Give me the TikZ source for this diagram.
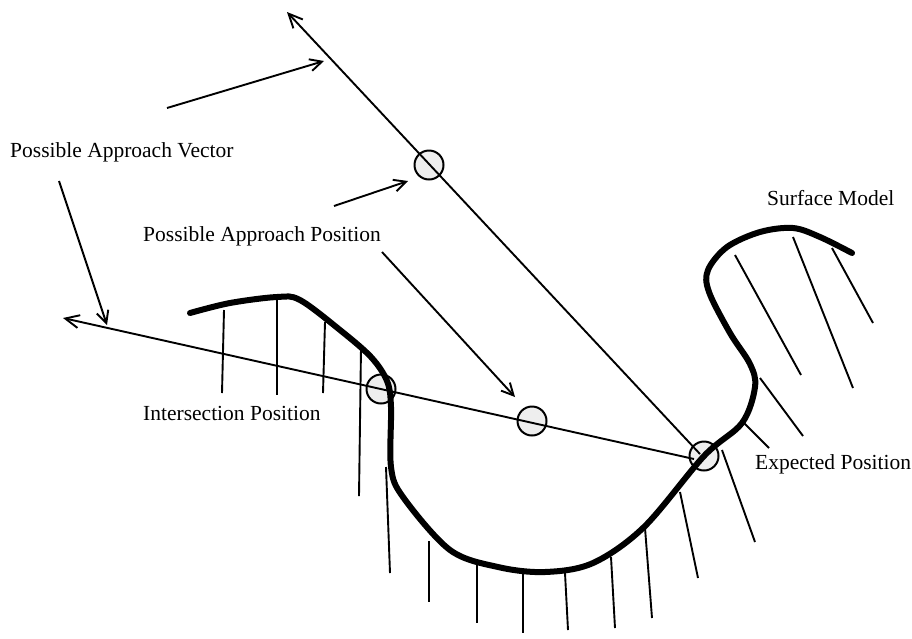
\documentclass[tikz,border=0pt]{standalone}
\usepackage{fontspec}
\setmainfont{Liberation Serif}
\usepackage{tikz}
\usetikzlibrary{positioning,arrows.meta,calc}
\definecolor{probe}{HTML}{EEEEEE}

\begin{document}
\begin{tikzpicture}[x=1pt, y=-1pt,
      probept/.style={circle, draw, fill=probe, line
      width=2pt, minimum size=29pt, inner sep=0pt},
      ray/.style={-{Straight Barb[length=14pt, width=13pt]}, line width=1.9pt},
      lead/.style={-{Straight Barb[length=12pt, width=12pt]}, line width=1.9pt},
      surf/.style={line width=6pt, line cap=round, line join=round},
      hatch/.style={line width=1.9pt},
      lbl/.style={font=\fontsize{21.5}{24}\selectfont, anchor=base west, inner sep=0pt},
    ]
    \useasboundingbox (0,0) rectangle (912,638);

    % hatching under the surface
    \foreach \xa/\ya/\xb/\yb in {224/310/222/393, 277/297/277/395,
        325/322/323/393, 361/348/359/496, 386/467/390/573,
        429/541/429/602, 477/565/477/623, 523/573/523/633,
        565/573/568/630, 611/557/615/628, 645/528/652/618,
        680/492/698/578, 722/450/755/542, 743/422/769/448,
        760/378/803/436, 735/255/801/375, 793/237/853/388,
        832/248/873/323}
      \draw[hatch] (\xa,\ya) -- (\xb,\yb);

    \node[probept] (top) at (429,165) {};
    \node[probept] (isect) at (381,389) {};
    \node[probept] (mid) at (532,421) {};
    \node[probept] (exp) at (704,456) {};

    \draw[surf] plot[smooth, tension=0.55] coordinates {(190,313) (230,303)
      (277,297) (300,300) (340,330) (371,357) (387,381) (391,407) (391,467)
      (403,497) (450,550) (498,567) (545,572) (593,563) (644,527) (704,456)
      (742,423) (755,387) (750,364) (730,333) (709,292) (708,270) (727,247)
      (760,232) (793,228) (820,237) (852,253)};

    \coordinate (vtip) at (287,12);
    \coordinate (htip) at (63,318);
    \coordinate (vend) at (700,454);
    \coordinate (hend) at (694,459);
    \draw[ray] (vend) -- (vtip);
    \draw[ray] (hend) -- (htip);

    % labels
    \node[lbl] (vec) at (10,157) {Possible Approach Vector};
    \node[lbl] (app) at (143,241) {Possible Approach Position};
    \node[lbl] (int) at (143,420) {Intersection Position};
    \node[lbl] (sm) at (767,205) {Surface Model};
    \node[lbl] (ep) at (755,469) {Expected Position};

    \coordinate (l1s) at (167,108);
    \coordinate (l1e) at (324,61);
    \coordinate (l2s) at (59,181);
    \coordinate (l2e) at (107,325);
    \coordinate (l3s) at (334,206);
    \coordinate (l3e) at (408,181);
    \coordinate (l4s) at (382,252);
    \coordinate (l4e) at (515,397);
    \draw[lead] (l1s) -- (l1e);
    \draw[lead] (l2s) -- (l2e);
    \draw[lead] (l3s) -- (l3e);
    \draw[lead] (l4s) -- (l4e);
  \end{tikzpicture}
\end{document}
